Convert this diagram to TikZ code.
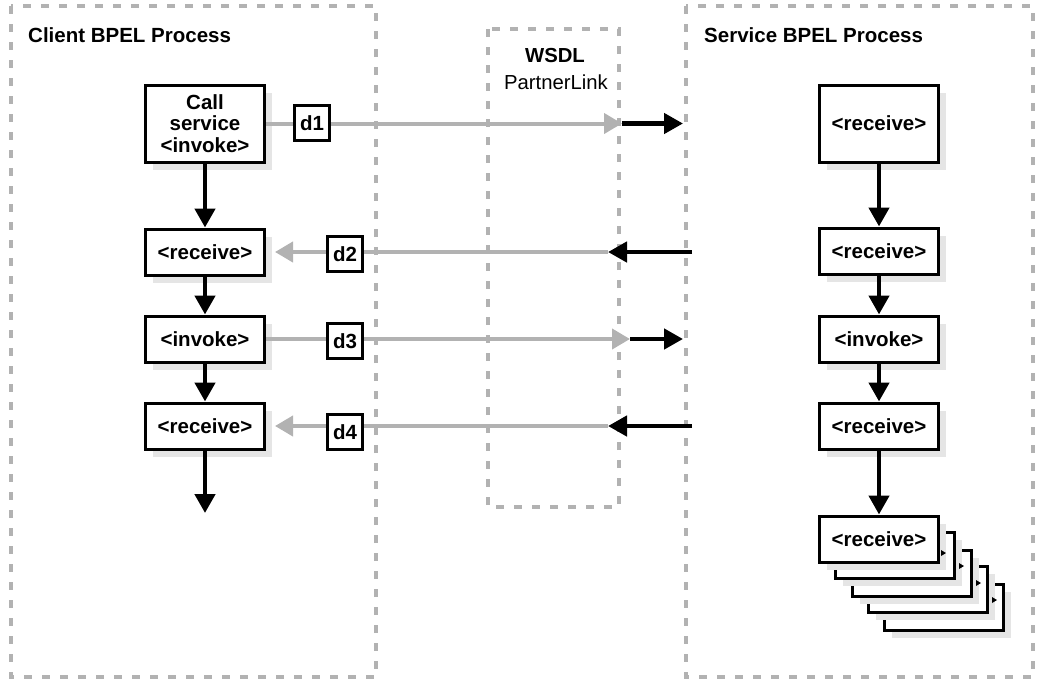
\documentclass[tikz,border=0pt]{standalone}
\usepackage{fontspec}
\setmainfont{Liberation Sans}
\usetikzlibrary{arrows.meta,shadows}
\begin{document}
\begin{tikzpicture}[x=1pt,y=-1pt,
  region/.style={draw=black!30, line width=4pt, dash pattern=on 8pt off 10pt},
  actbox/.style={draw=black, line width=3pt, fill=white, minimum width=119pt, minimum height=46pt, inner sep=0pt,
    font=\fontsize{20.5}{21.5}\selectfont\bfseries, align=center,
    drop shadow={shadow xshift=7pt, shadow yshift=-8pt, fill=black!10, opacity=1}},
  databox/.style={draw=black, line width=2.5pt, fill=white, minimum size=35pt, inner sep=0pt,
    font=\fontsize{20.5}{21.5}\selectfont\bfseries},
  flow/.style={draw=black, line width=4.5pt, -{Triangle[length=19pt,width=20pt]}},
  msg/.style={draw=black!30, line width=4pt, -{Triangle[length=18pt,width=20pt]}},
  heading/.style={font=\fontsize{20.5}{24}\selectfont\bfseries, anchor=base west, inner sep=0pt},
  plain/.style={font=\fontsize{20.3}{24}\selectfont, anchor=base, inner sep=0pt},
  stackmark/.style={fill=black}
]
\useasboundingbox (0,0) rectangle (1040,683);

% regions
\draw[region] (11,6) rectangle (376,677);
\draw[region] (488,29) rectangle (619,507);
\draw[region] (686,6) rectangle (1033,677);

% titles
\node[heading] (tclient) at (28,42) {Client BPEL Process};
\node[heading] (tservice) at (704,42) {Service BPEL Process};
\node[plain, font=\fontsize{20.3}{24}\selectfont\bfseries] (wsdl) at (555,62) {WSDL};
\node[plain] (plink) at (556,89) {PartnerLink};

% client column
\node[actbox, minimum height=77pt] (callL) at (205,123.5) {Call\\service\\<invoke>};
\node[actbox] (recvL1) at (205,252) {<receive>};
\node[actbox] (invL) at (205,339) {<invoke>};
\node[actbox] (recvL2) at (205,426) {<receive>};
\coordinate (endL) at (205,513);

% service column
\node[actbox, minimum height=77pt] (recvR0) at (879,123.5) {<receive>};
\node[actbox] (recvR1) at (879,251) {<receive>};
\node[actbox] (invR) at (879,339) {<invoke>};
\node[actbox] (recvR2) at (879,426) {<receive>};

% stacked receives (back to front)
\node[actbox] (st5) at (944,607) {};
\node[actbox] (st4) at (928,589) {};
\fill[stackmark] (992,597) -- (997,600) -- (992,603) -- cycle;
\node[actbox] (st3) at (912,573) {};
\fill[stackmark] (976,580) -- (981,583) -- (976,586) -- cycle;
\node[actbox] (st2) at (895,555) {};
\fill[stackmark] (959,563) -- (964,566) -- (959,569) -- cycle;
\node[actbox] (st1) at (879,539) {<receive>};
\fill[stackmark] (941,550) -- (946,553) -- (941,556) -- cycle;

% vertical flows
\draw[flow] (callL.south) -- (recvL1.north);
\draw[flow] (recvL1.south) -- (invL.north);
\draw[flow] (invL.south) -- (recvL2.north);
\draw[flow] (recvL2.south) -- (endL);
\draw[flow] (recvR0.south) -- (recvR1.north);
\draw[flow] (recvR1.south) -- (invR.north);
\draw[flow] (invR.south) -- (recvR2.north);
\draw[flow] (recvR2.south) -- (st1.north);

% message coordinates
\coordinate (g1) at (622,123.5);
\coordinate (b1) at (683,123.5);
\coordinate (s2) at (692,252);
\coordinate (g2) at (608,252);
\coordinate (t2) at (275,252);
\coordinate (g3) at (630,339);
\coordinate (b3) at (683,339);
\coordinate (s4) at (692,426);
\coordinate (g4) at (608,426);
\coordinate (t4) at (275,426);

% gray message lines
\draw[msg] (callL.east) -- (g1);
\draw[msg] (g2) -- (t2);
\draw[msg] (invL.east) -- (g3);
\draw[msg] (g4) -- (t4);

% black partner arrows
\draw[flow] (g1) -- (b1);
\draw[flow] (s2) -- (g2);
\draw[flow] (g3) -- (b3);
\draw[flow] (s4) -- (g4);

% data boxes
\node[databox] (d1) at (312,123) {d1};
\node[databox] (d2) at (345,254) {d2};
\node[databox] (d3) at (345,341) {d3};
\node[databox] (d4) at (345,432) {d4};
\end{tikzpicture}
\end{document}
